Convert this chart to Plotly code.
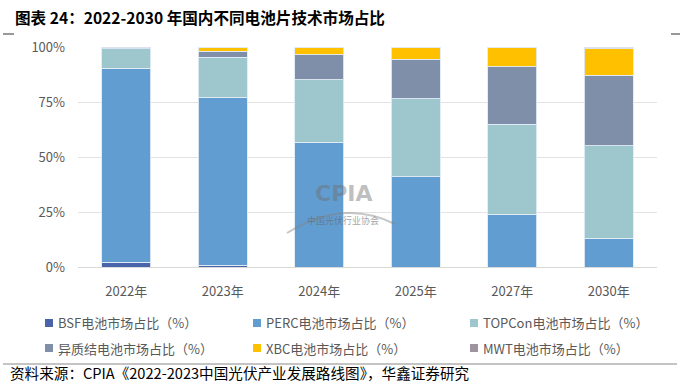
import plotly.graph_objects as go

categories = ["2022年", "2023年", "2024年", "2025年", "2027年", "2030年"]
bsf = [2.2, 0.8, 0, 0, 0, 0]
perc = [88.2, 76.4, 56.8, 41.1, 23.9, 13.1]
topcon = [8.9, 18.2, 28.3, 35.3, 41.1, 42.0]
hjt = [0.3, 2.7, 11.3, 18.1, 26.0, 32.1]
xbc = [0.0, 1.8, 3.5, 5.4, 8.8, 12.1]
mwt = [0.4, 0.1, 0.1, 0.1, 0.2, 0.7]
series_names = ["BSF电池市场占比（%）", "PERC电池市场占比（%）", "TOPCon电池市场占比（%）",
                "异质结电池市场占比（%）", "XBC电池市场占比（%）", "MWT电池市场占比（%）"]
colors = ["#4A64AC", "#629DD1", "#9DC6CD", "#7F8FA9", "#FFC000", "#9E939F"]

W, H = 680, 382
L, R, T, B = 78, 23, 47, 115
pw, ph = W - L - R, H - T - B

def px(x):
    return (x - L) / pw

def py(y):
    return (H - B - y) / ph

fig = go.Figure()
for name, vals, col in zip(series_names, [bsf, perc, topcon, hjt, xbc, mwt], colors):
    fig.add_trace(go.Bar(x=categories, y=vals, name=name, showlegend=False,
                         marker=dict(color=col, line=dict(color="rgba(225,235,245,0.9)", width=1))))

fig.update_layout(
    width=W, height=H,
    margin=dict(l=L, r=R, t=T, b=B, autoexpand=False),
    barmode="stack", bargap=0.49,
    plot_bgcolor="white", paper_bgcolor="white",
    font=dict(family="Noto Sans CJK SC, Noto Sans, sans-serif", size=13, color="#595959"),
    xaxis=dict(showline=True, linecolor="#D9D9D9", linewidth=1, ticks="", ticklabelstandoff=12,
               tickfont=dict(size=13, color="#595959")),
    yaxis=dict(range=[0, 100], dtick=25, ticksuffix="%", showgrid=True, gridcolor="#E3E3E3",
               zeroline=False, tickfont=dict(size=13, color="#595959"), ticklen=0,
               ticklabelstandoff=12),
    showlegend=False,
)

# manual legend (3 columns x 2 rows)
leg_x = [45, 253, 470]
leg_y = [323, 348]
for i, (name, col) in enumerate(zip(series_names, colors)):
    cx = leg_x[i % 3]
    cy = leg_y[i // 3]
    fig.add_shape(type="rect", xref="paper", yref="paper",
                  x0=px(cx), x1=px(cx + 8), y0=py(cy - 4), y1=py(cy + 4),
                  fillcolor=col, line=dict(width=0))
    fig.add_annotation(text=name, xref="paper", yref="paper", x=px(cx + 11), y=py(cy),
                       xanchor="left", yanchor="middle", showarrow=False,
                       font=dict(size=13, color="#595959"))

fig.add_annotation(text="<b>图表 24：2022-2030 年国内不同电池片技术市场占比</b>",
                   xref="paper", yref="paper", x=px(13), y=py(17), xanchor="left", yanchor="middle",
                   showarrow=False, font=dict(size=15.6, color="#000000"))
fig.add_annotation(text="资料来源：CPIA《2022-2023中国光伏产业发展路线图》，华鑫证券研究",
                   xref="paper", yref="paper", x=px(8), y=py(372), xanchor="left", yanchor="middle",
                   showarrow=False, font=dict(size=14.6, color="#000000"))
# watermark
fig.add_annotation(text="<b>CPIA</b>", xref="paper", yref="paper", x=px(343), y=py(193),
                   showarrow=False, font=dict(size=22, color="rgba(110,110,110,0.45)", family="DejaVu Sans"))
fig.add_annotation(text="中国光伏行业协会", xref="paper", yref="paper", x=px(343), y=py(229),
                   showarrow=False, font=dict(size=9, color="rgba(100,100,100,0.6)"))
fig.add_shape(type="path", xref="paper", yref="paper",
              path="M {},{} Q {},{} {},{}".format(px(287), py(233), px(343), py(198), px(395), py(224)),
              line=dict(color="rgba(130,130,130,0.45)", width=2))

fig.add_shape(type="line", xref="paper", yref="paper", x0=px(3), x1=px(14), y0=py(34), y1=py(34),
              line=dict(color="#333333", width=1))
fig.add_shape(type="line", xref="paper", yref="paper", x0=px(671), x1=px(680), y0=py(34), y1=py(34),
              line=dict(color="#333333", width=1))
fig.add_shape(type="line", xref="paper", yref="paper", x0=px(3), x1=px(677), y0=py(364), y1=py(364),
              line=dict(color="#888888", width=1))

fig.write_html("out.html", config={"displayModeBar": False},
               post_script="document.body.style.margin='0';document.body.style.overflow='hidden';")
